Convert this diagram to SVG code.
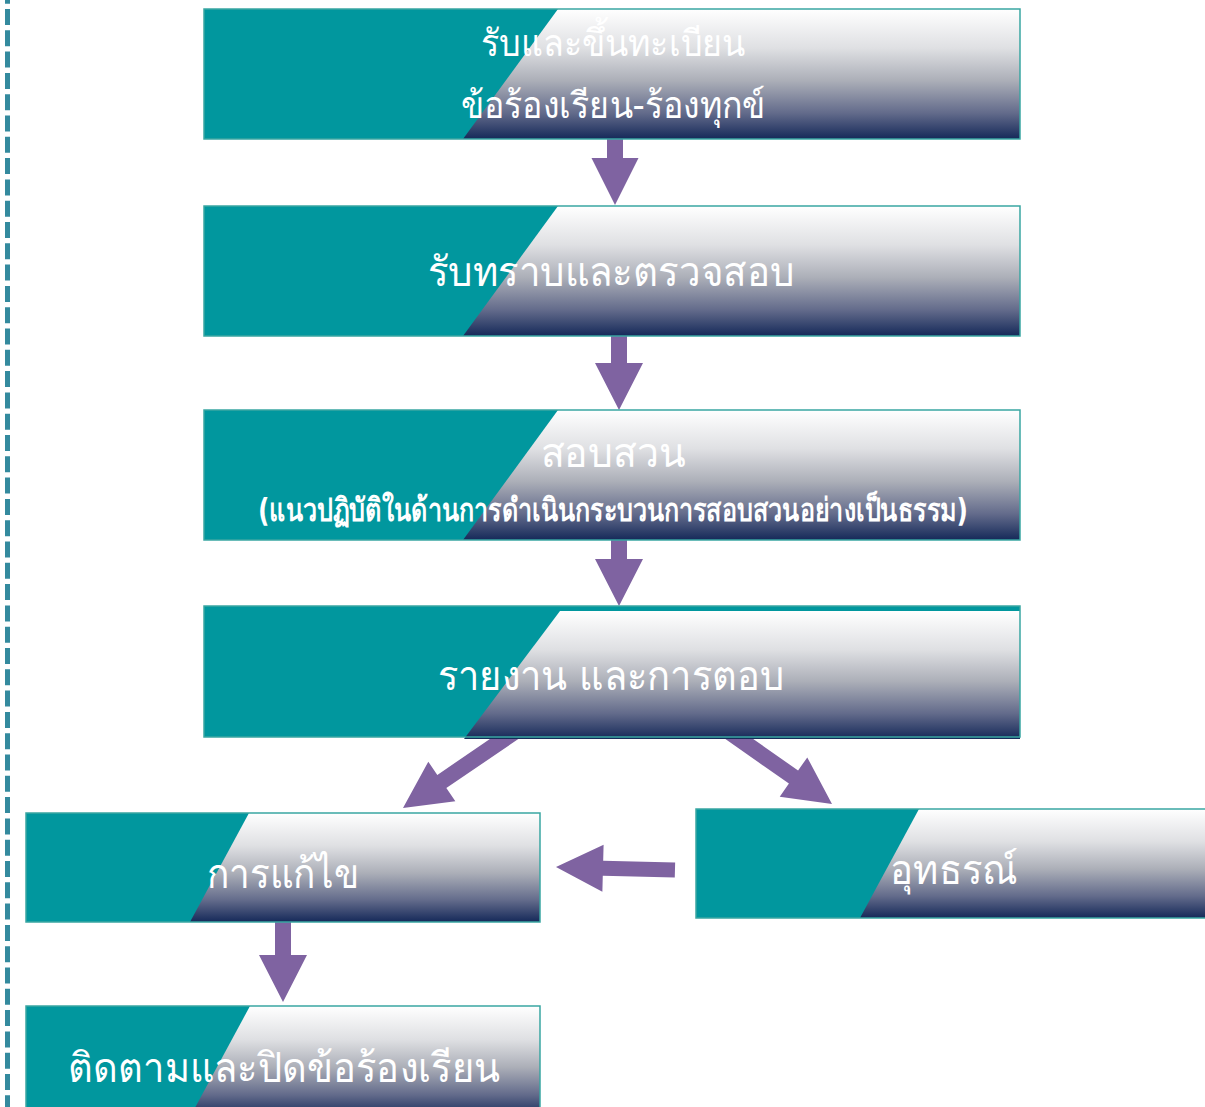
<svg xmlns="http://www.w3.org/2000/svg" width="1205" height="1107" viewBox="0 0 1205 1107">
<defs>
<linearGradient id="g" x1="0" y1="0" x2="0" y2="1">
<stop offset="0" stop-color="#ffffff"/>
<stop offset="0.3" stop-color="#dfe0e3"/>
<stop offset="0.55" stop-color="#acafb8"/>
<stop offset="0.8" stop-color="#636b8b"/>
<stop offset="1" stop-color="#152959"/>
</linearGradient>
</defs>
<style>
.teal{fill:#01979e}
.grad{fill:url(#g)}
.edge{fill:none;stroke:#3aa6a2;stroke-width:1.5}
.t{fill:#ffffff;font-family:"DejaVu Sans","Noto Sans",sans-serif;font-size:41px;text-anchor:middle}
.arr{fill:#7f63a1}
</style>
<rect width="1205" height="1107" fill="#ffffff"/>
<line x1="7.5" y1="-12.3" x2="7.5" y2="1107" stroke="#348a9e" stroke-width="5" stroke-dasharray="16 5.3"/>
<g id="connectors" class="arr">
<polygon transform="translate(615,205) rotate(90)" points="-70,-8 -47,-8 -47,-23.5 0,0 -47,23.5 -47,8 -70,8"/>
<polygon transform="translate(619,410) rotate(90)" points="-78,-8 -47,-8 -47,-24 0,0 -47,24 -47,8 -78,8"/>
<polygon transform="translate(619,606) rotate(90)" points="-70,-8 -47,-8 -47,-24 0,0 -47,24 -47,8 -70,8"/>
<polygon transform="translate(403,808) rotate(145.7)" points="-135,-8 -47,-8 -47,-24 0,0 -47,24 -47,8 -135,8"/>
<polygon transform="translate(832,804) rotate(35)" points="-125,-8 -47,-8 -47,-24 0,0 -47,24 -47,8 -125,8"/>
<polygon transform="translate(556,867) rotate(181.5)" points="-119,-7.5 -47,-7.5 -47,-23.5 0,0 -47,23.5 -47,7.5 -119,7.5"/>
<polygon transform="translate(283,1002) rotate(90)" points="-82,-8 -47,-8 -47,-24 0,0 -47,24 -47,8 -82,8"/>
</g>
<g id="n1">
<rect class="teal" x="204" y="9" width="816" height="130"/>
<polygon class="grad" points="558,9 1020,9 1020,139 463,139"/>
<rect class="edge" x="204" y="9" width="816" height="130"/>
<text class="t" x="613" y="56" style="font-size:37px" textLength="264" lengthAdjust="spacingAndGlyphs">รับและขึ้นทะเบียน</text>
<text class="t" x="613" y="118" style="font-size:37px" textLength="304" lengthAdjust="spacingAndGlyphs">ข้อร้องเรียน-ร้องทุกข์</text>
</g>
<g id="n2">
<rect class="teal" x="204" y="206" width="816" height="130"/>
<polygon class="grad" points="558,206 1020,206 1020,336 463,336"/>
<rect class="edge" x="204" y="206" width="816" height="130"/>
<text class="t" x="611" y="286" textLength="367" lengthAdjust="spacingAndGlyphs">รับทราบและตรวจสอบ</text>
</g>
<g id="n3">
<rect class="teal" x="204" y="410" width="816" height="130"/>
<polygon class="grad" points="558,410 1020,410 1020,540 463,540"/>
<rect class="edge" x="204" y="410" width="816" height="130"/>
<text class="t" x="613" y="467" textLength="145" lengthAdjust="spacingAndGlyphs">สอบสวน</text>
<text class="t" x="613" y="521" style="font-size:32px;font-weight:bold" textLength="710" lengthAdjust="spacingAndGlyphs">(แนวปฏิบัติในด้านการดำเนินกระบวนการสอบสวนอย่างเป็นธรรม)</text>
</g>
<g id="n4">
<rect class="teal" x="204" y="606" width="816" height="131"/>
<polygon class="grad" points="560,611 1020,611 1020,739 464,739"/>
<rect class="edge" x="204" y="606" width="816" height="131"/>
<text class="t" x="611" y="690" textLength="347" lengthAdjust="spacingAndGlyphs">รายงาน และการตอบ</text>
</g>
<g id="n5">
<rect class="teal" x="26" y="813" width="514" height="109"/>
<polygon class="grad" points="249,813 540,813 540,922 190,922"/>
<rect class="edge" x="26" y="813" width="514" height="109"/>
<text class="t" x="283" y="888" textLength="153" lengthAdjust="spacingAndGlyphs">การแก้ไข</text>
</g>
<g id="n6">
<rect class="teal" x="696" y="809" width="520" height="109"/>
<polygon class="grad" points="919,809 1216,809 1216,918 860,918"/>
<rect class="edge" x="696" y="809" width="520" height="109"/>
<text class="t" x="954" y="884" textLength="128" lengthAdjust="spacingAndGlyphs">อุทธรณ์</text>
</g>
<g id="n7">
<rect class="teal" x="26" y="1006" width="514" height="111"/>
<polygon class="grad" points="250,1006 540,1006 540,1117 190,1117"/>
<rect class="edge" x="26" y="1006" width="514" height="111"/>
<text class="t" x="284" y="1082" textLength="432" lengthAdjust="spacingAndGlyphs">ติดตามและปิดข้อร้องเรียน</text>
</g>
</svg>
